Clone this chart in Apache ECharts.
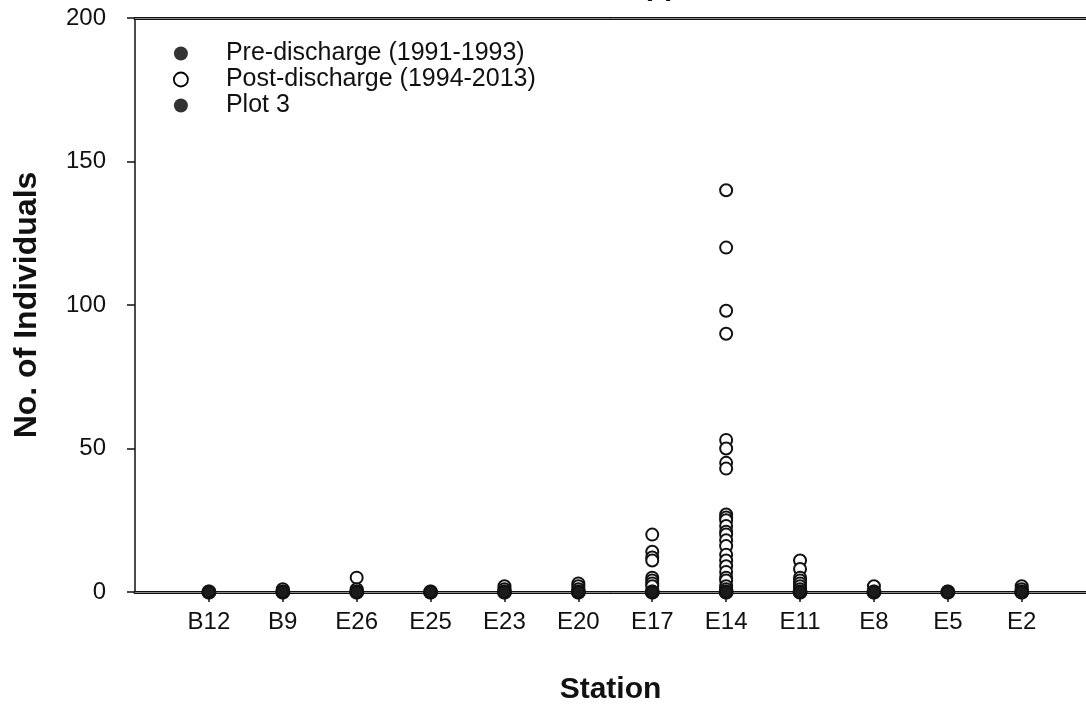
<!DOCTYPE html>
<html>
<head>
<meta charset="utf-8">
<script src="https://cdn.jsdelivr.net/npm/echarts@6/dist/echarts.min.js"></script>
<style>html,body{margin:0;padding:0;background:#fff}#c{width:1086px;height:704px}</style>
</head>
<body>
<div id="c"></div>
<script>
const stations = ['B12','B9','E26','E25','E23','E20','E17','E14','E11','E8','E5','E2'];
const yTicks = [0, 50, 100, 150, 200];
// Pre-discharge (1991-1993) values per station
const preValues = [[0],[0],[0],[0],[0],[0],[0],[0],[0],[0],[0],[0]];
// Post-discharge (1994-2013) values per station
const postValues = [
  [0],
  [1, 0],
  [5, 1, 0],
  [0],
  [2, 1, 0],
  [3, 2, 1, 0],
  [20, 14, 12, 11, 5, 4, 3, 2, 0],
  [140, 120, 98, 90, 53, 50, 45, 43, 27, 26, 25, 23, 21, 20, 18, 16, 13, 11, 9, 7, 5, 4, 2, 1, 0],
  [11, 8, 5, 4, 3, 2, 1, 0],
  [2, 0],
  [0],
  [2, 1, 0]
];
// Plot 3 values per station
const plot3Values = [[0],[0],[0],[0],[0],[0],[0],[0],[0],[0],[0],[0]];

const FONT = 'Arial, "Liberation Sans", sans-serif';
const toPoints = arr => arr.flatMap((vals, i) => vals.map(v => [i + 1, v]));
const pos = stations.map((s, i) => i + 1);

const chart = echarts.init(document.getElementById('c'), null, {renderer: 'canvas'});
const dark = '#111111';
chart.setOption({
  animation: false,
  backgroundColor: '#ffffff',
  textStyle: {fontFamily: FONT, color: dark},
  title: {
    text: 'spp.', left: 624, top: -33,
    textStyle: {fontFamily: FONT, fontSize: 30, fontWeight: 'bold', color: dark}
  },
  grid: {left: 135, right: 0, top: 18, bottom: 112, containLabel: false, outerBoundsMode: 'none'},
  legend: {
    orient: 'vertical', left: 173, top: 41, padding: 0,
    itemWidth: 14, itemHeight: 14, itemGap: 1,
    textStyle: {fontFamily: FONT, fontSize: 25, color: dark, lineHeight: 24, padding: [0, 0, 0, 33]},
    data: [
      {name: 'Pre-discharge (1991-1993)', itemStyle: {color: '#000000'}},
      {name: 'Post-discharge (1994-2013)', itemStyle: {color: '#ffffff', borderColor: '#000000', borderWidth: 1.8}},
      {name: 'Plot 3', itemStyle: {color: '#000000'}}
    ]
  },
  xAxis: [
    {
      type: 'value', min: 0, max: 12.87, position: 'bottom',
      name: 'Station', nameLocation: 'middle', nameGap: 83,
      nameTextStyle: {fontFamily: FONT, fontSize: 30, fontWeight: 'bold', color: dark},
      axisLine: {show: true, onZero: false, lineStyle: {color: dark, width: 3}},
      axisTick: {show: true, customValues: pos, length: 10, lineStyle: {color: dark, width: 1.5}},
      axisLabel: {show: true, customValues: pos, margin: 18, fontFamily: FONT, fontSize: 24, color: dark,
        formatter: v => stations[Math.round(v) - 1] || ''},
      splitLine: {show: false}
    },
    {
      type: 'value', min: 0, max: 12.87, position: 'top',
      axisLine: {show: true, onZero: false, lineStyle: {color: dark, width: 3}},
      axisTick: {show: false}, axisLabel: {show: false}, splitLine: {show: false}
    },
    {
      type: 'value', min: 0, max: 12.87, position: 'bottom', offset: 0,
      axisLine: {show: true, onZero: false, lineStyle: {color: '#8a8a8a', width: 1}},
      axisTick: {show: false}, axisLabel: {show: false}, splitLine: {show: false}
    },
    {
      type: 'value', min: 0, max: 12.87, position: 'top', offset: 0,
      axisLine: {show: true, onZero: false, lineStyle: {color: '#8a8a8a', width: 1}},
      axisTick: {show: false}, axisLabel: {show: false}, splitLine: {show: false}
    }
  ],
  yAxis: {
    type: 'value', min: 0, max: 200, interval: 50,
    name: 'No. of Individuals', nameLocation: 'middle', nameGap: 92, nameRotate: 90,
    nameTextStyle: {fontFamily: FONT, fontSize: 32, fontWeight: 'bold', color: dark},
    axisLine: {show: true, lineStyle: {color: dark, width: 1.5}},
    axisTick: {show: true, length: 8, lineStyle: {color: dark, width: 1.5}},
    axisLabel: {margin: 29, fontFamily: FONT, fontSize: 24, color: dark,
      customValues: yTicks, formatter: v => String(v)},
    splitLine: {show: false}
  },
  series: [
    {
      name: 'Pre-discharge (1991-1993)', type: 'scatter', z: 4,
      symbol: 'circle', symbolSize: 15,
      itemStyle: {color: dark, borderColor: dark, borderWidth: 0},
      data: toPoints(preValues)
    },
    {
      name: 'Post-discharge (1994-2013)', type: 'scatter', z: 3,
      symbol: 'circle', symbolSize: 12,
      itemStyle: {color: '#ffffff', borderColor: dark, borderWidth: 2, opacity: 1},
      data: toPoints(postValues)
    },
    {
      name: 'Plot 3', type: 'scatter', z: 5,
      symbol: 'circle', symbolSize: 15,
      itemStyle: {color: dark, borderColor: dark, borderWidth: 0},
      data: toPoints(plot3Values)
    }
  ]
});
</script>
</body>
</html>
